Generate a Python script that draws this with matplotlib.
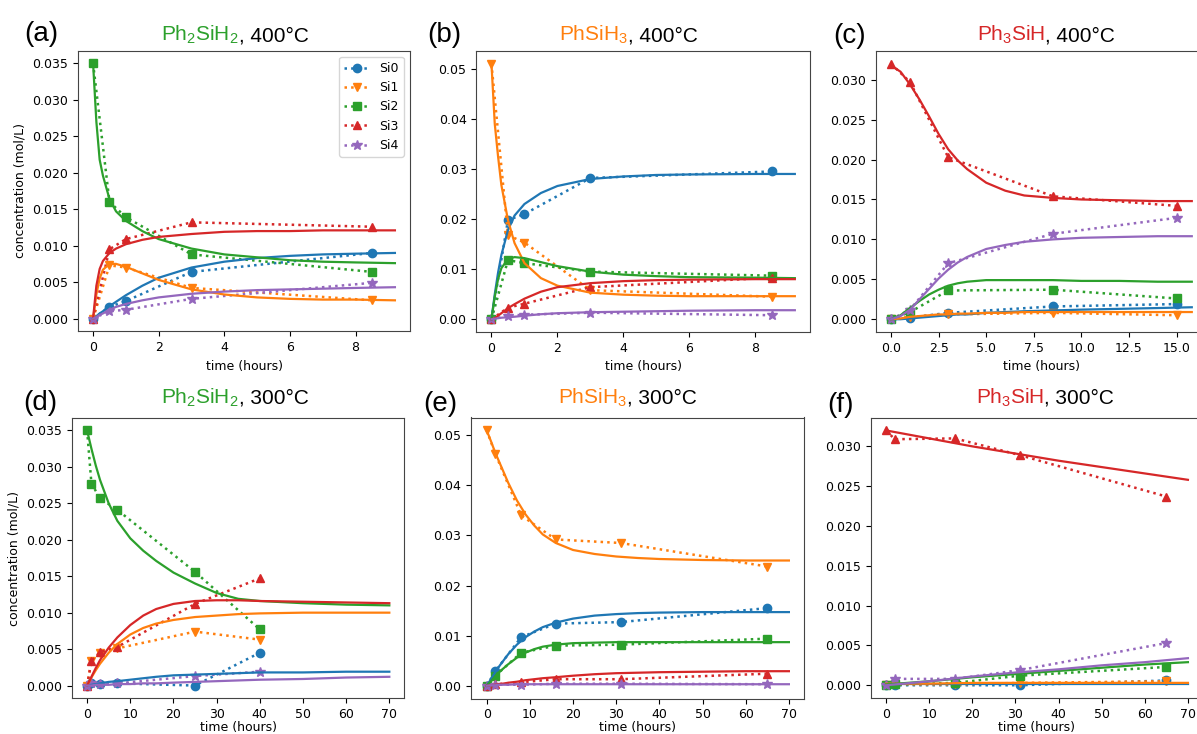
import matplotlib
matplotlib.use("Agg")
import matplotlib.pyplot as plt
from matplotlib.transforms import offset_copy

plt.rcParams["mathtext.fontset"] = "custom"
plt.rcParams["mathtext.rm"] = "Liberation Sans"
plt.rcParams["mathtext.it"] = "Liberation Sans:italic"

W, H = 1197, 734

SPECIES = ["Si0", "Si1", "Si2", "Si3", "Si4"]
COLORS = ["#1f77b4", "#ff7f0e", "#2ca02c", "#d62728", "#9467bd"]
MARKERS = ["o", "v", "s", "^", "*"]

# ---------------- (a) Ph2SiH2, 400C ----------------
A_T = [0, 0.5, 1, 3, 8.5]
A_DATA = {
    "Si0": [0, 0.0016, 0.0024, 0.0064, 0.0090],
    "Si1": [0, 0.0073, 0.0070, 0.0042, 0.0025],
    "Si2": [0.035, 0.0160, 0.0139, 0.0088, 0.0064],
    "Si3": [0, 0.0095, 0.0109, 0.0132, 0.0126],
    "Si4": [0, 0.0010, 0.0012, 0.0027, 0.0049],
}
A_FIT_T = [0, 0.1, 0.2, 0.3, 0.5, 0.7, 1, 1.5, 2, 3, 4, 5, 6, 7, 8, 9.2]
A_FIT = {
    "Si0": [0, 0.0003, 0.0007, 0.0010, 0.0017, 0.0023, 0.0032, 0.0045, 0.0056, 0.0070, 0.0078, 0.0083, 0.0086, 0.0088, 0.0089, 0.0090],
    "Si1": [0, 0.0033, 0.0055, 0.0067, 0.0075, 0.0075, 0.0071, 0.0062, 0.0053, 0.0040, 0.0033, 0.0029, 0.0027, 0.0026, 0.0026, 0.0025],
    "Si2": [0.035, 0.0270, 0.0218, 0.0196, 0.0164, 0.0147, 0.0134, 0.0120, 0.0109, 0.0096, 0.0088, 0.0084, 0.0080, 0.0078, 0.0077, 0.0076],
    "Si3": [0, 0.0045, 0.0068, 0.0079, 0.0090, 0.0096, 0.0102, 0.0108, 0.0112, 0.0116, 0.0119, 0.0120, 0.0120, 0.0121, 0.0121, 0.0121],
    "Si4": [0, 0.0002, 0.0005, 0.0007, 0.0012, 0.0016, 0.0020, 0.0025, 0.0029, 0.0034, 0.0037, 0.0039, 0.0040, 0.0041, 0.0042, 0.0043],
}

# ---------------- (b) PhSiH3, 400C ----------------
B_T = [0, 0.5, 1, 3, 8.5]
B_DATA = {
    "Si0": [0, 0.0198, 0.0210, 0.0282, 0.0295],
    "Si1": [0.051, 0.0168, 0.0153, 0.0058, 0.0045],
    "Si2": [0, 0.0118, 0.0112, 0.0095, 0.0087],
    "Si3": [0, 0.0023, 0.0031, 0.0064, 0.0083],
    "Si4": [0, 0.0007, 0.0009, 0.0013, 0.0008],
}
B_FIT_T = [0, 0.1, 0.2, 0.3, 0.5, 0.7, 1, 1.5, 2, 3, 4, 5, 6, 8, 9.2]
B_FIT = {
    "Si0": [0, 0.0050, 0.0093, 0.0128, 0.0178, 0.0207, 0.0230, 0.0252, 0.0266, 0.0280, 0.0285, 0.0288, 0.0289, 0.0290, 0.0290],
    "Si1": [0.051, 0.0390, 0.0325, 0.0268, 0.0198, 0.0152, 0.0112, 0.0082, 0.0067, 0.0053, 0.0049, 0.0047, 0.0046, 0.0046, 0.0046],
    "Si2": [0, 0.0045, 0.0080, 0.0102, 0.0120, 0.0124, 0.0122, 0.0114, 0.0106, 0.0095, 0.0089, 0.0086, 0.0084, 0.0083, 0.0082],
    "Si3": [0, 0.0002, 0.0007, 0.0012, 0.0022, 0.0030, 0.0041, 0.0055, 0.0064, 0.0072, 0.0076, 0.0078, 0.0079, 0.0080, 0.0080],
    "Si4": [0, 0.0001, 0.0002, 0.0003, 0.0004, 0.0005, 0.0007, 0.0010, 0.0012, 0.0014, 0.0015, 0.0016, 0.0017, 0.0018, 0.0018],
}

# ---------------- (c) Ph3SiH, 400C ----------------
C_T = [0, 1, 3, 8.5, 15]
C_DATA = {
    "Si0": [0, 0.0002, 0.0008, 0.0016, 0.0019],
    "Si1": [0, 0.0003, 0.0006, 0.0008, 0.0005],
    "Si2": [0, 0.0009, 0.0036, 0.0037, 0.0026],
    "Si3": [0.032, 0.0297, 0.0203, 0.0154, 0.0142],
    "Si4": [0, 0.0012, 0.0070, 0.0107, 0.0127],
}
C_FIT_T = [0, 0.5, 1, 1.5, 2, 2.5, 3, 3.5, 4, 5, 6, 7, 8.5, 10, 12, 14, 15.8]
C_FIT = {
    "Si0": [0, 0, 0.0001, 0.0002, 0.0003, 0.0004, 0.0005, 0.0006, 0.0006, 0.0008, 0.0009, 0.0010, 0.0011, 0.0012, 0.0013, 0.0014, 0.0015],
    "Si1": [0, 0.0001, 0.0003, 0.0004, 0.0005, 0.0006, 0.0006, 0.0007, 0.0007, 0.0008, 0.0008, 0.0009, 0.0009, 0.0009, 0.0009, 0.0009, 0.0009],
    "Si2": [0, 0.0005, 0.0014, 0.0023, 0.0031, 0.0037, 0.0042, 0.0045, 0.0047, 0.0049, 0.0049, 0.0049, 0.0049, 0.0048, 0.0048, 0.0047, 0.0047],
    "Si3": [0.0318, 0.0310, 0.0294, 0.0275, 0.0254, 0.0232, 0.0213, 0.0199, 0.0188, 0.0171, 0.0161, 0.0155, 0.0152, 0.0150, 0.0149, 0.0148, 0.0148],
    "Si4": [0, 0.0004, 0.0012, 0.0025, 0.0038, 0.0051, 0.0062, 0.0071, 0.0078, 0.0088, 0.0093, 0.0097, 0.0100, 0.0102, 0.0103, 0.0104, 0.0104],
}

# ---------------- (d) Ph2SiH2, 300C ----------------
D_T = [0, 1, 3, 7, 25, 40]
D_DATA = {
    "Si0": [0, 0.0003, 0.0002, 0.0003, 0.0000, 0.0045],
    "Si1": [0, 0.0034, 0.0045, 0.0051, 0.0074, 0.0063],
    "Si2": [0.035, 0.0277, 0.0257, 0.0241, 0.0156, 0.0077],
    "Si3": [0, 0.0034, 0.0046, 0.0053, 0.0112, 0.0147],
    "Si4": [0, 0.0003, 0.0002, 0.0003, 0.0013, 0.0019],
}
D_FIT_T = [0, 1, 2, 3, 5, 7, 10, 13, 16, 20, 25, 30, 35, 40, 50, 60, 70]
D_FIT = {
    "Si0": [0, 0.0001, 0.0002, 0.0003, 0.0005, 0.0006, 0.0008, 0.0010, 0.0012, 0.0014, 0.0015, 0.0016, 0.0017, 0.0018, 0.0018, 0.0019, 0.0019],
    "Si1": [0, 0.0011, 0.0021, 0.0030, 0.0045, 0.0057, 0.0070, 0.0079, 0.0085, 0.0090, 0.0094, 0.0096, 0.0098, 0.0099, 0.0100, 0.0100, 0.0100],
    "Si2": [0.035, 0.0325, 0.0302, 0.0282, 0.0250, 0.0226, 0.0202, 0.0185, 0.0171, 0.0155, 0.0140, 0.0127, 0.0119, 0.0116, 0.0113, 0.0111, 0.0110],
    "Si3": [0, 0.0012, 0.0024, 0.0035, 0.0052, 0.0066, 0.0083, 0.0096, 0.0105, 0.0112, 0.0116, 0.0117, 0.0117, 0.0116, 0.0115, 0.0114, 0.0113],
    "Si4": [0, 0, 0.0001, 0.0001, 0.0001, 0.0002, 0.0002, 0.0003, 0.0003, 0.0004, 0.0005, 0.0006, 0.0007, 0.0008, 0.0009, 0.0011, 0.0012],
}

# ---------------- (e) PhSiH3, 300C ----------------
E_T = [0, 2, 8, 16, 31, 65]
E_DATA = {
    "Si0": [0, 0.0029, 0.0097, 0.0124, 0.0127, 0.0155],
    "Si1": [0.051, 0.0463, 0.0340, 0.0292, 0.0285, 0.0238],
    "Si2": [0, 0.0020, 0.0066, 0.0080, 0.0082, 0.0094],
    "Si3": [0, 0.0003, 0.0007, 0.0013, 0.0013, 0.0024],
    "Si4": [0, 0.0002, 0.0002, 0.0004, 0.0004, 0.0003],
}
E_FIT_T = [0, 1, 2, 3, 5, 7, 9, 11, 13, 16, 20, 25, 30, 35, 40, 50, 60, 70]
E_FIT = {
    "Si0": [0, 0.0013, 0.0027, 0.0040, 0.0063, 0.0082, 0.0097, 0.0108, 0.0117, 0.0126, 0.0134, 0.0140, 0.0143, 0.0145, 0.0146, 0.0147, 0.0147, 0.0147],
    "Si1": [0.051, 0.0488, 0.0465, 0.0445, 0.0405, 0.0370, 0.0342, 0.0320, 0.0302, 0.0285, 0.0271, 0.0263, 0.0258, 0.0255, 0.0253, 0.0251, 0.0250, 0.0250],
    "Si2": [0, 0.0009, 0.0019, 0.0028, 0.0043, 0.0056, 0.0066, 0.0073, 0.0078, 0.0082, 0.0085, 0.0086, 0.0087, 0.0087, 0.0087, 0.0087, 0.0087, 0.0087],
    "Si3": [0, 0.0001, 0.0002, 0.0003, 0.0006, 0.0008, 0.0011, 0.0013, 0.0015, 0.0017, 0.0020, 0.0023, 0.0025, 0.0026, 0.0027, 0.0028, 0.0029, 0.0029],
    "Si4": [0, 0.0001, 0.0001, 0.0002, 0.0002, 0.0003, 0.0003, 0.0003, 0.0003, 0.0003, 0.0003, 0.0003, 0.0003, 0.0003, 0.0003, 0.0003, 0.0003, 0.0003],
}

# ---------------- (f) Ph3SiH, 300C ----------------
F_T = [0, 2, 16, 31, 65]
F_DATA = {
    "Si0": [0, 0.0000, 0.0000, 0.0000, 0.0006],
    "Si1": [0, 0.0001, 0.0001, 0.0003, 0.0005],
    "Si2": [0, 0.0001, 0.0003, 0.0012, 0.0023],
    "Si3": [0.032, 0.0309, 0.0310, 0.0289, 0.0237],
    "Si4": [0, 0.0008, 0.0008, 0.0019, 0.0053],
}
F_FIT_T = [0, 10, 20, 30, 40, 50, 60, 70]
F_FIT = {
    "Si0": [0.0001, 0.0001, 0.0001, 0.0001, 0.0001, 0.0001, 0.0001, 0.0001],
    "Si1": [0.0002, 0.0002, 0.0003, 0.0003, 0.0003, 0.0003, 0.0003, 0.0003],
    "Si2": [0.0001, 0.0005, 0.0010, 0.0014, 0.0018, 0.0022, 0.0026, 0.0029],
    "Si3": [0.0320, 0.0310, 0.0300, 0.0291, 0.0282, 0.0274, 0.0266, 0.0258],
    "Si4": [0.0000, 0.0005, 0.0011, 0.0016, 0.0020, 0.0025, 0.0029, 0.0034],
}

# panel label, formula, colour of formula, temperature
PANELS = [
    ("(a)", r"Ph$_2$SiH$_2$", "#2ca02c", ", 400°C", A_T, A_DATA, A_FIT_T, A_FIT),
    ("(b)", r"PhSiH$_3$", "#ff7f0e", ", 400°C", B_T, B_DATA, B_FIT_T, B_FIT),
    ("(c)", r"Ph$_3$SiH", "#d62728", ", 400°C", C_T, C_DATA, C_FIT_T, C_FIT),
    ("(d)", r"Ph$_2$SiH$_2$", "#2ca02c", ", 300°C", D_T, D_DATA, D_FIT_T, D_FIT),
    ("(e)", r"PhSiH$_3$", "#ff7f0e", ", 300°C", E_T, E_DATA, E_FIT_T, E_FIT),
    ("(f)", r"Ph$_3$SiH", "#d62728", ", 300°C", F_T, F_DATA, F_FIT_T, F_FIT),
]

# pixel layout: axes box (x0, x1, y0, y1), x limits, label pos, title pos
BOXES = [(78, 410, 50.7, 331.3), (476.3, 810, 51, 332), (876, 1207, 51, 332),
         (72, 404, 417.7, 698.3), (470.7, 804, 417.5, 698.5), (871, 1203, 417.7, 698)]
XLIMS = [(-0.46, 9.66), (-0.46, 9.66), (-0.79, 16.6),
         (-3.5, 73.4), (-3.7, 73.5), (-3.5, 73.5)]
LABEL_POS = [(24, 41), (427, 42.5), (833, 43), (23, 410), (423, 411), (827, 412)]
TITLE_POS = [(161, 41), (559, 41), (977, 41), (161, 404), (558, 404), (976, 404)]


def px_box(x0, x1, y0, y1):
    return [x0 / W, 1 - y1 / H, (x1 - x0) / W, (y1 - y0) / H]


fig = plt.figure(figsize=(W / 100, H / 100), dpi=100)
renderer = fig.canvas.get_renderer()

for i, (lab, formula, fcol, temp, t, data, fit_t, fit) in enumerate(PANELS):
    ax = fig.add_axes(px_box(*BOXES[i]))
    for sp, c, m in zip(SPECIES, COLORS, MARKERS):
        ax.plot(t, data[sp], linestyle=":", marker=m, color=c, lw=1.8,
                markersize=7 if m == "*" else 6, label=sp)
    for sp, c in zip(SPECIES, COLORS):
        ax.plot(fit_t, fit[sp], "-", color=c, lw=1.6)
    ax.set_xlim(*XLIMS[i])
    ax.tick_params(labelsize=9)
    # bottom row labels sit right at the lower edge of the figure
    ax.set_xlabel("time (hours)", fontsize=9, labelpad=0 if i >= 3 else 4)
    if i in (0, 3):
        ax.set_ylabel("concentration (mol/L)", fontsize=9)
    if i == 0:
        ax.legend(loc="upper right", fontsize=9)
    for s in ax.spines.values():
        s.set_color("#444444")

    # panel label
    lx, ly = LABEL_POS[i]
    fig.text(lx / W, 1 - ly / H, lab, fontsize=20, family="Liberation Sans",
             va="baseline", ha="left")

    # two-colour title
    tx, ty = TITLE_POS[i]
    t1 = fig.text(tx / W, 1 - ty / H, formula, color=fcol, fontsize=15,
                  family="Liberation Sans", va="baseline", ha="left")
    w1 = t1.get_window_extent(renderer=renderer).width
    fig.text(tx / W, 1 - ty / H, temp, color="black", fontsize=15,
             family="Liberation Sans", va="baseline", ha="left",
             transform=offset_copy(fig.transFigure, fig=fig, x=w1, y=0, units="dots"))

fig.savefig("out.png", dpi=100)
